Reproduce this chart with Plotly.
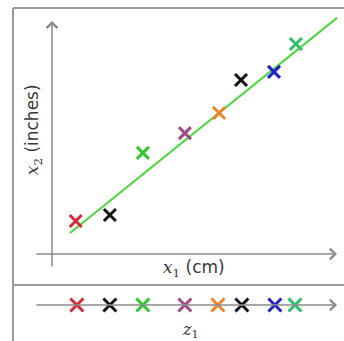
import plotly.graph_objects as go

# ---- data (arbitrary units) ----
colors = ["#d42a3a", "#111111", "#33c633", "#a04a88", "#ea8228", "#111111", "#2222c8", "#2cbf6c"]
x1_vals = [0.79, 1.93, 3.03, 4.43, 5.57, 6.30, 7.40, 8.13]
x2_vals = [1.10, 1.30, 3.37, 4.03, 4.70, 5.80, 6.07, 7.00]
z1_vals = [0.83, 1.93, 3.03, 4.43, 5.53, 6.33, 7.43, 8.10]
fit_x = [0.60, 9.50]
fit_y = [0.70, 7.87]

W, H = 344, 341
X_RANGE = [-52 / 30, (W - 52) / 30]
DIV = 285  # pixel row of divider
Y1_RANGE = [(254 - DIV) / 30, 254 / 30]
Y2_RANGE = [-(H - 305) / 30, (305 - DIV) / 30]
split = (H - DIV) / H

AX = "#8a8a8a"
TXT = "#3a3a3a"

fig = go.Figure()

fig.add_trace(go.Scatter(x=fit_x, y=fit_y, mode="lines",
                         line=dict(color="#4ad83a", width=2), xaxis="x", yaxis="y",
                         hoverinfo="skip", showlegend=False))
fig.add_trace(go.Scatter(x=x1_vals, y=x2_vals, mode="markers",
                         marker=dict(symbol="x-thin-open", size=12, color=colors,
                                     line=dict(color=colors, width=3)),
                         xaxis="x", yaxis="y", showlegend=False))
fig.add_trace(go.Scatter(x=z1_vals, y=[0] * len(z1_vals), mode="markers",
                         marker=dict(symbol="x-thin-open", size=13, color=colors,
                                     line=dict(color=colors, width=3)),
                         xaxis="x2", yaxis="y2", showlegend=False))

arrow = dict(showarrow=True, arrowhead=4, arrowsize=1.4, arrowwidth=1.5, arrowcolor=AX, text="")
annotations = []
# upper axes arrows
annotations.append(dict(x=9.5, y=0, ax=-0.57, ay=0, xref="x", yref="y", axref="x", ayref="y", **arrow))
annotations.append(dict(x=0, y=7.77, ax=0, ay=-0.47, xref="x", yref="y", axref="x", ayref="y", **arrow))
# lower axis arrow
annotations.append(dict(x=9.5, y=0, ax=-0.57, ay=0, xref="x2", yref="y2", axref="x2", ayref="y2", **arrow))
# labels
annotations.append(dict(x=4.72, y=-0.47, xref="x", yref="y", showarrow=False,
                        text="<span style='font-family:DejaVu Serif'><i>x</i><sub>1</sub></span> (cm)",
                        font=dict(size=17, color=TXT, family="DejaVu Sans")))
annotations.append(dict(x=-0.63, y=4.13, xref="x", yref="y", showarrow=False, textangle=-90,
                        text="<span style='font-family:DejaVu Serif'><i>x</i><sub>2</sub></span> (inches)",
                        font=dict(size=17, color=TXT, family="DejaVu Sans")))
annotations.append(dict(x=4.6, y=-0.85, xref="x2", yref="y2", showarrow=False,
                        text="<i>z</i><sub>1</sub>",
                        font=dict(size=16, color=TXT, family="DejaVu Serif")))

lx = 13 / W
top = (H - 8) / H
FR = "#9a9a9a"
shapes = [
    dict(type="line", xref="paper", yref="paper", x0=lx, x1=lx, y0=0, y1=top, line=dict(color=FR, width=2)),
    dict(type="line", xref="paper", yref="paper", x0=lx, x1=1, y0=top, y1=top, line=dict(color=FR, width=2)),
    dict(type="line", xref="paper", yref="paper", x0=lx, x1=1, y0=split, y1=split, line=dict(color=FR, width=2)),
]

hidden = dict(visible=False, showgrid=False, zeroline=False, fixedrange=True)
fig.update_layout(
    width=W, height=H, margin=dict(l=0, r=0, t=0, b=0),
    paper_bgcolor="white", plot_bgcolor="white",
    xaxis=dict(range=X_RANGE, domain=[0, 1], anchor="y", **hidden),
    yaxis=dict(range=Y1_RANGE, domain=[split, 1], anchor="x", **hidden),
    xaxis2=dict(range=X_RANGE, domain=[0, 1], anchor="y2", **hidden),
    yaxis2=dict(range=Y2_RANGE, domain=[0, split], anchor="x2", **hidden),
    annotations=annotations, shapes=shapes, showlegend=False,
)

fig.write_html("out.html", config={"displayModeBar": False},
               post_script="document.body.style.margin='0';document.body.style.overflow='hidden';")
